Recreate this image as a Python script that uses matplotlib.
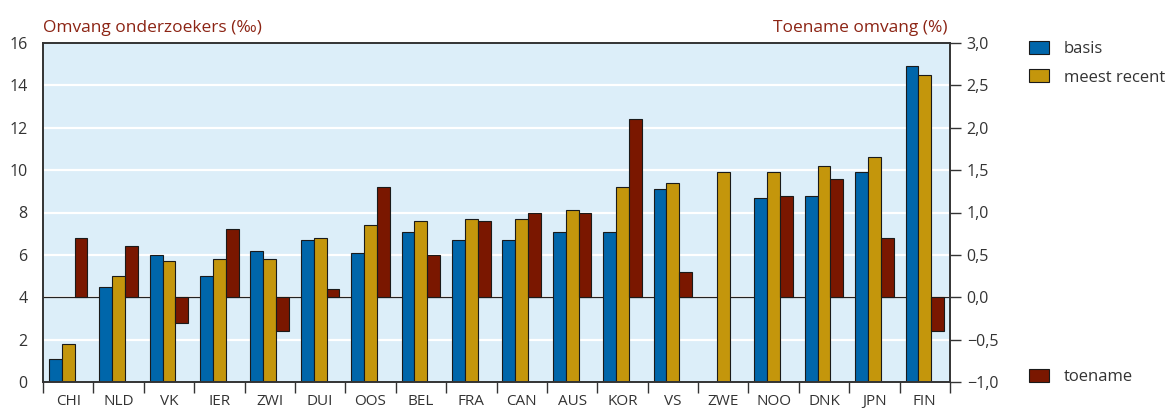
import matplotlib
matplotlib.use("Agg")
import matplotlib.pyplot as plt
import numpy as np
from matplotlib.ticker import FixedLocator, FuncFormatter

plt.rcParams['font.family'] = ['Open Sans', 'DejaVu Sans']

categories = ["CHI", "NLD", "VK", "IER", "ZWI", "DUI", "OOS", "BEL", "FRA",
              "CAN", "AUS", "KOR", "VS", "ZWE", "NOO", "DNK", "JPN", "FIN"]
basis = [1.08, 4.5, 6.0, 5.0, 6.2, 6.7, 6.1, 7.1, 6.7,
         6.7, 7.1, 7.1, 9.1, np.nan, 8.7, 8.8, 9.9, 14.9]
meest_recent = [1.8, 5.0, 5.7, 5.8, 5.8, 6.8, 7.4, 7.6, 7.7,
                7.7, 8.1, 9.2, 9.4, 9.9, 9.9, 10.2, 10.6, 14.5]
toename = [0.70, 0.60, -0.30, 0.80, -0.40, 0.10, 1.30, 0.50, 0.90,
           1.00, 1.00, 2.10, 0.30, np.nan, 1.20, 1.40, 0.70, -0.40]

C_BLUE = "#0066aa"
C_GOLD = "#c4960c"
C_RED = "#7a1700"
C_BG = "#dceef9"
C_TITLE = "#8c2414"
C_TXT = "#333333"

fig = plt.figure(figsize=(11.71, 4.09), dpi=100)
ax = fig.add_axes([43/1171, 27/409, 907/1171, 339/409])
ax2 = ax.twinx()

x = np.arange(len(categories))
w = 0.255

ax.set_facecolor(C_BG)
ax.set_xlim(-0.5, len(categories) - 0.5)
ax.set_ylim(0, 16)
ax2.set_ylim(-1, 3)

for yy in range(2, 16, 2):
    ax.axhline(yy, color="white", lw=1.6, zorder=1)
ax.axhline(4, color="#222222", lw=0.9, zorder=1.5)

ax.bar(x - w, basis, w, color=C_BLUE, edgecolor="#1a1a1a", lw=0.8, zorder=2, label="basis")
ax.bar(x, meest_recent, w, color=C_GOLD, edgecolor="#1a1a1a", lw=0.8, zorder=2, label="meest recent")
ax2.bar(x + w, toename, w, color=C_RED, edgecolor="#1a1a1a", lw=0.8, zorder=2, label="toename")

# x axis
ax.set_xticks(x)
ax.set_xticklabels(categories)
ax.xaxis.set_minor_locator(FixedLocator(np.arange(-0.5, len(categories), 1.0)))
ax.tick_params(axis="x", which="major", length=0, pad=8.5, labelsize=11, labelcolor=C_TXT)
ax.tick_params(axis="x", which="minor", length=8, width=1, color="#333333", direction="out")

# left y
ax.set_yticks(range(0, 17, 2))
ax.tick_params(axis="y", length=0, pad=11, labelsize=11.5, labelcolor=C_TXT)

# right y
ax2.set_yticks(np.arange(-1, 3.01, 0.5))
ax2.yaxis.set_major_formatter(FuncFormatter(lambda v, p: ("%.1f" % v).replace(".", ",").replace("-", "\u2212")))
ax2.tick_params(axis="y", length=8, width=1, color="#333333", direction="out", pad=4,
                labelsize=11.5, labelcolor=C_TXT)

for a in (ax, ax2):
    for s in a.spines.values():
        s.set_color("#333333")
        s.set_linewidth(1.2)

ax.text(0.0, 1.02, "Omvang onderzoekers (\u2030)", transform=ax.transAxes,
        ha="left", va="bottom", fontsize=12.5, color=C_TITLE)
ax.text(0.997, 1.02, "Toename omvang (%)", transform=ax.transAxes,
        ha="right", va="bottom", fontsize=12.5, color=C_TITLE)

h1, l1 = ax.get_legend_handles_labels()
h2, l2 = ax2.get_legend_handles_labels()
leg1 = fig.legend(h1, l1, loc="upper left", bbox_to_anchor=(1029/1171, 1 - 41/409),
                  frameon=False, fontsize=12, handlelength=1.2, handleheight=0.85,
                  handletextpad=0.9, labelspacing=0.7, borderaxespad=0, borderpad=0)
leg2 = fig.legend(h2, l2, loc="upper left", bbox_to_anchor=(1029/1171, 1 - 369/409),
                  frameon=False, fontsize=12, handlelength=1.2, handleheight=0.85,
                  handletextpad=0.9, borderaxespad=0, borderpad=0)
for lg in (leg1, leg2):
    for t in lg.get_texts():
        t.set_color(C_TXT)

fig.savefig("out.png", dpi=100)
